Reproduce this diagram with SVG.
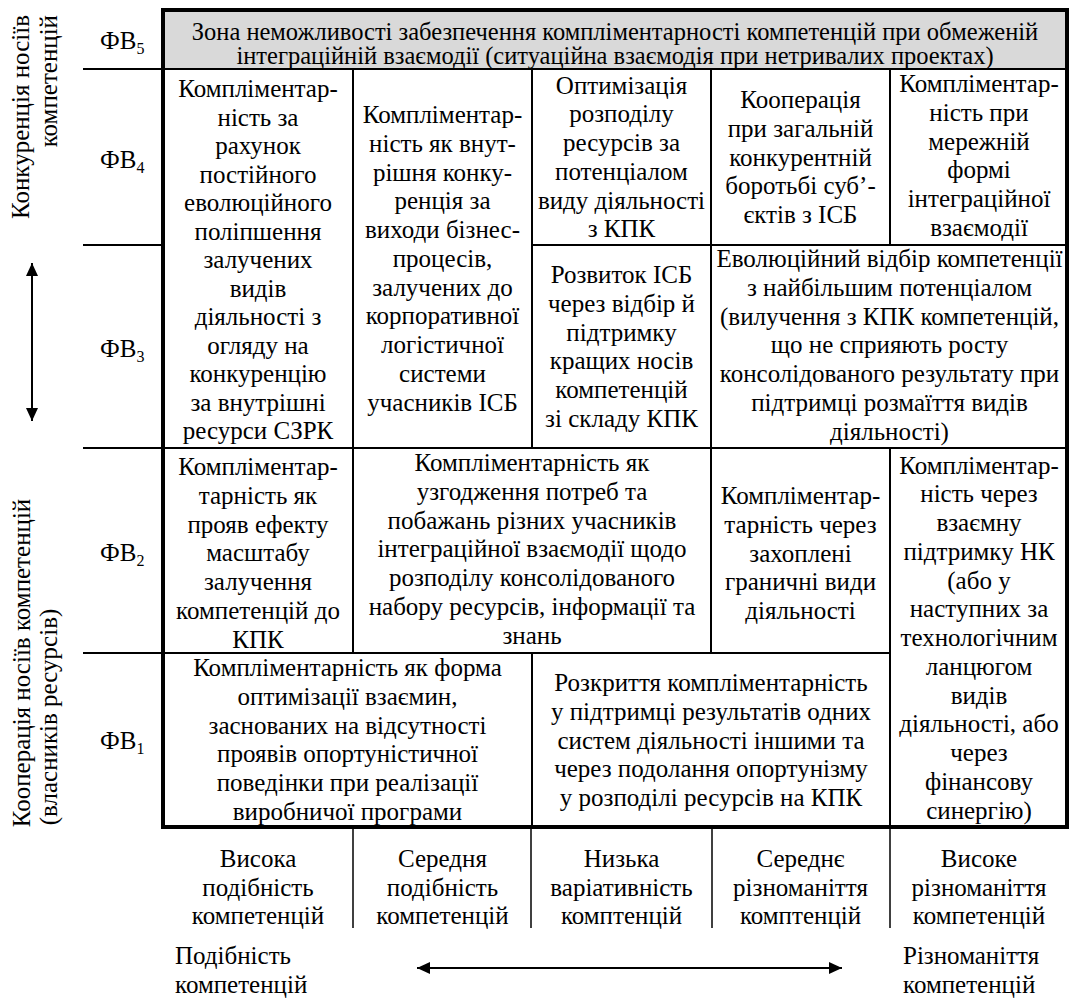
<svg xmlns="http://www.w3.org/2000/svg" width="1073" height="1001" viewBox="0 0 1073 1001">
<style>
text{font-family:"Liberation Serif","Times New Roman",serif;font-size:25px;fill:#000}
.c{text-anchor:middle}
.s{font-size:16px}
.ttl{font-size:24.5px}
.frame{fill:none;stroke:#000;stroke-width:4}
.ln{stroke:#000;stroke-width:2;fill:none}
.thin{stroke:#000;stroke-width:1.5;fill:none}
.arr{stroke:#000;stroke-width:2;fill:none;marker-start:url(#ah);marker-end:url(#ah)}
</style>
<defs>
<marker id="ah" markerUnits="userSpaceOnUse" markerWidth="13" markerHeight="12" refX="13" refY="6" orient="auto-start-reverse" viewBox="0 0 13 12">
<path d="M0,0 L13,6 L0,12 z" fill="#000"/>
</marker>
</defs>
<rect width="1073" height="1001" fill="#fff"/>

<g id="grid">
<rect x="163" y="10" width="904" height="59" fill="#d9d9d9"/>
<line class="ln" x1="83" y1="69" x2="1067" y2="69"/>
<line class="ln" x1="83" y1="245" x2="163" y2="245"/>
<line class="ln" x1="532" y1="245" x2="1067" y2="245"/>
<line class="ln" x1="83" y1="448" x2="1067" y2="448"/>
<line class="ln" x1="83" y1="653" x2="890" y2="653"/>
<line class="ln" x1="353" y1="69" x2="353" y2="653"/>
<line class="ln" x1="532" y1="69" x2="532" y2="448"/>
<line class="ln" x1="532" y1="653" x2="532" y2="827"/>
<line class="ln" x1="711" y1="69" x2="711" y2="653"/>
<line class="ln" x1="890" y1="69" x2="890" y2="245"/>
<line class="ln" x1="890" y1="448" x2="890" y2="827"/>
<rect class="frame" x="163" y="10" width="904" height="817"/>
<line class="thin" x1="353" y1="829" x2="353" y2="928"/>
<line class="thin" x1="531" y1="829" x2="531" y2="928"/>
<line class="thin" x1="712" y1="829" x2="712" y2="928"/>
<line class="thin" x1="890" y1="829" x2="890" y2="928"/>
</g>

<g id="axis-labels">
<text transform="rotate(-90)" x="-15" y="29" text-anchor="end">Конкуренція носіїв</text>
<text transform="rotate(-90)" x="-15" y="57" text-anchor="end">компетенцій</text>
<text transform="rotate(-90)" x="-663" y="30" text-anchor="middle">Кооперація носіїв компетенцій</text>
<text transform="rotate(-90)" x="-717" y="57" text-anchor="middle">(власників ресурсів)</text>
<text x="175" y="964">Подібність</text>
<text x="175" y="993">компетенцій</text>
<text x="903" y="964">Різноманіття</text>
<text x="903" y="993">компетенцій</text>
</g>

<g id="row-labels">
<text x="100" y="49">ФВ<tspan class="s" dy="5">5</tspan></text>
<text x="100" y="168">ФВ<tspan class="s" dy="5">4</tspan></text>
<text x="100" y="357">ФВ<tspan class="s" dy="5">3</tspan></text>
<text x="100" y="561">ФВ<tspan class="s" dy="5">2</tspan></text>
<text x="100" y="749">ФВ<tspan class="s" dy="5">1</tspan></text>
</g>

<g id="cell-zone">
<text class="c ttl"><tspan x="615" y="39.5">Зона неможливості забезпечення компліментарності компетенцій при обмеженій</tspan><tspan x="615" y="64">інтеграційній взаємодії (ситуаційна взаємодія при нетривалих проектах)</tspan></text>
</g>

<g id="cell-a">
<text class="c"><tspan x="258" y="97">Компліментар-</tspan><tspan x="258" y="125.5">ність за</tspan><tspan x="258" y="154">рахунок</tspan><tspan x="258" y="182.5">постійного</tspan><tspan x="258" y="211">еволюційного</tspan><tspan x="258" y="239.5">поліпшення</tspan><tspan x="258" y="268">залучених</tspan><tspan x="258" y="296.5">видів</tspan><tspan x="258" y="325">діяльності з</tspan><tspan x="258" y="353.5">огляду на</tspan><tspan x="258" y="382">конкуренцію</tspan><tspan x="258" y="410.5">за внутрішні</tspan><tspan x="258" y="439">ресурси СЗРК</tspan></text>
</g>

<g id="cell-b">
<text class="c"><tspan x="442.5" y="123">Компліментар-</tspan><tspan x="442.5" y="151.75">ність як внут-</tspan><tspan x="442.5" y="180.5">рішня конку-</tspan><tspan x="442.5" y="209.25">ренція за</tspan><tspan x="442.5" y="238">виходи бізнес-</tspan><tspan x="442.5" y="266.75">процесів,</tspan><tspan x="442.5" y="295.5">залучених до</tspan><tspan x="442.5" y="324.25">корпоративної</tspan><tspan x="442.5" y="353">логістичної</tspan><tspan x="442.5" y="381.75">системи</tspan><tspan x="442.5" y="410.5">учасників ІСБ</tspan></text>
</g>

<g id="cell-c">
<text class="c"><tspan x="621.5" y="93.5">Оптимізація</tspan><tspan x="621.5" y="122.25">розподілу</tspan><tspan x="621.5" y="151">ресурсів за</tspan><tspan x="621.5" y="179.75">потенціалом</tspan><tspan x="621.5" y="208.5">виду діяльності</tspan><tspan x="621.5" y="237.25">з КПК</tspan></text>
</g>

<g id="cell-d">
<text class="c"><tspan x="800.5" y="108">Кооперація</tspan><tspan x="800.5" y="136.75">при загальній</tspan><tspan x="800.5" y="165.5">конкурентній</tspan><tspan x="800.5" y="194.25">боротьбі суб’-</tspan><tspan x="800.5" y="223">єктів з ІСБ</tspan></text>
</g>

<g id="cell-e">
<text class="c"><tspan x="979" y="92">Компліментар-</tspan><tspan x="979" y="120.75">ність при</tspan><tspan x="979" y="149.5">мережній</tspan><tspan x="979" y="178.25">формі</tspan><tspan x="979" y="207">інтеграційної</tspan><tspan x="979" y="235.75">взаємодії</tspan></text>
</g>

<g id="cell-f">
<text class="c"><tspan x="621.5" y="283">Розвиток ІСБ</tspan><tspan x="621.5" y="311.75">через відбір й</tspan><tspan x="621.5" y="340.5">підтримку</tspan><tspan x="621.5" y="369.25">кращих носів</tspan><tspan x="621.5" y="398">компетенцій</tspan><tspan x="621.5" y="426.75">зі складу КПК</tspan></text>
</g>

<g id="cell-g">
<text class="c"><tspan x="889.5" y="267">Еволюційний відбір компетенції</tspan><tspan x="889.5" y="295.75">з найбільшим потенціалом</tspan><tspan x="889.5" y="324.5">(вилучення з КПК компетенцій,</tspan><tspan x="889.5" y="353.25">що не сприяють росту</tspan><tspan x="889.5" y="382">консолідованого результату при</tspan><tspan x="889.5" y="410.75">підтримці розмаїття видів</tspan><tspan x="889.5" y="439.5">діяльності)</tspan></text>
</g>

<g id="cell-h">
<text class="c"><tspan x="258" y="475">Компліментар-</tspan><tspan x="258" y="503.75">тарність як</tspan><tspan x="258" y="532.5">прояв ефекту</tspan><tspan x="258" y="561.25">масштабу</tspan><tspan x="258" y="590">залучення</tspan><tspan x="258" y="618.75">компетенцій до</tspan><tspan x="258" y="647.5">КПК</tspan></text>
</g>

<g id="cell-i">
<text class="c"><tspan x="532" y="471">Компліментарність як</tspan><tspan x="532" y="499.75">узгодження потреб та</tspan><tspan x="532" y="528.5">побажань різних учасників</tspan><tspan x="532" y="557.25">інтеграційної взаємодії щодо</tspan><tspan x="532" y="586">розподілу консолідованого</tspan><tspan x="532" y="614.75">набору ресурсів, інформації та</tspan><tspan x="532" y="643.5">знань</tspan></text>
</g>

<g id="cell-j">
<text class="c"><tspan x="800.5" y="504">Компліментар-</tspan><tspan x="800.5" y="532.75">тарність через</tspan><tspan x="800.5" y="561.5">захоплені</tspan><tspan x="800.5" y="590.25">граничні види</tspan><tspan x="800.5" y="619">діяльності</tspan></text>
</g>

<g id="cell-k">
<text class="c"><tspan x="979" y="473.5">Компліментар-</tspan><tspan x="979" y="502.25">ність через</tspan><tspan x="979" y="531">взаємну</tspan><tspan x="979" y="559.75">підтримку НК</tspan><tspan x="979" y="588.5">(або у</tspan><tspan x="979" y="617.25">наступних за</tspan><tspan x="979" y="646">технологічним</tspan><tspan x="979" y="674.75">ланцюгом</tspan><tspan x="979" y="703.5">видів</tspan><tspan x="979" y="732.25">діяльності, або</tspan><tspan x="979" y="761">через</tspan><tspan x="979" y="789.75">фінансову</tspan><tspan x="979" y="818.5">синергію)</tspan></text>
</g>

<g id="cell-l">
<text class="c"><tspan x="347.5" y="676">Компліментарність як форма</tspan><tspan x="347.5" y="704.75">оптимізації взаємин,</tspan><tspan x="347.5" y="733.5">заснованих на відсутності</tspan><tspan x="347.5" y="762.25">проявів опортуністичної</tspan><tspan x="347.5" y="791">поведінки при реалізації</tspan><tspan x="347.5" y="819.75">виробничої програми</tspan></text>
</g>

<g id="cell-m">
<text class="c"><tspan x="711" y="691">Розкриття компліментарність</tspan><tspan x="711" y="719.75">у підтримці результатів одних</tspan><tspan x="711" y="748.5">систем діяльності іншими та</tspan><tspan x="711" y="777.25">через подолання опортунізму</tspan><tspan x="711" y="806">у розподілі ресурсів на КПК</tspan></text>
</g>

<g id="col-labels">
<text class="c"><tspan x="258" y="867">Висока</tspan><tspan x="258" y="895.5">подібність</tspan><tspan x="258" y="924">компетенцій</tspan></text>
<text class="c"><tspan x="442.5" y="867">Середня</tspan><tspan x="442.5" y="895.5">подібність</tspan><tspan x="442.5" y="924">компетенцій</tspan></text>
<text class="c"><tspan x="621.5" y="867">Низька</tspan><tspan x="621.5" y="895.5">варіативність</tspan><tspan x="621.5" y="924">комптенцій</tspan></text>
<text class="c"><tspan x="800.5" y="867">Середнє</tspan><tspan x="800.5" y="895.5">різноманіття</tspan><tspan x="800.5" y="924">комптенцій</tspan></text>
<text class="c"><tspan x="979" y="867">Високе</tspan><tspan x="979" y="895.5">різноманіття</tspan><tspan x="979" y="924">компетенцій</tspan></text>
</g>

<g id="connectors">
<line class="arr" x1="32" y1="263" x2="32" y2="421"/>
<line class="arr" x1="417" y1="968" x2="842" y2="968"/>
</g>
</svg>
